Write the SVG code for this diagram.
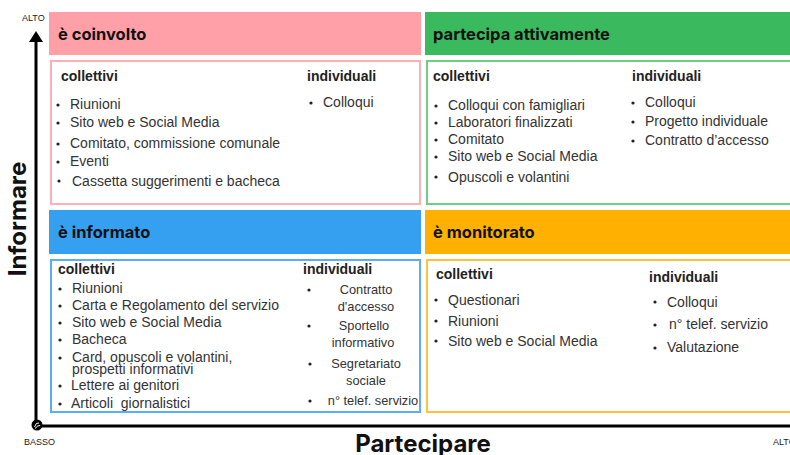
<svg xmlns="http://www.w3.org/2000/svg" width="790" height="455" viewBox="0 0 790 455">
<style>
.hd{font-family:"Inter","Open Sans","Liberation Sans",sans-serif;font-weight:700;font-size:16.5px;fill:#111}
.sub{font-family:"Liberation Sans",Arial,sans-serif;font-weight:700;font-size:14px;fill:#222}
.it{font-family:"Liberation Sans",Arial,sans-serif;font-size:14px;fill:#333}
.sm{font-family:"Liberation Sans",Arial,sans-serif;font-size:12.8px;fill:#333}
.ax{font-family:"Liberation Sans",Arial,sans-serif;font-size:9px;fill:#222}
.big{font-family:"Inter","Open Sans","Liberation Sans",sans-serif;font-weight:700;font-size:24px;fill:#111}
.box{fill:#fff;stroke-width:2}
.bul{fill:#222}
</style>
<rect width="790" height="455" fill="#fff"/>
<g id="coinvolto">
<rect x="49" y="12" width="372" height="43" fill="#FFA0A8"/>
<text class="hd" x="58" y="40">è coinvolto</text>
<rect class="box" x="51" y="61" width="369" height="143" stroke="#FFB0B6"/>
<text class="sub" x="61" y="81">collettivi</text>
<text class="sub" x="307" y="81">individuali</text>
<g class="bul"><circle cx="58" cy="105" r="1.6"/><circle cx="58" cy="123" r="1.6"/><circle cx="58" cy="144" r="1.6"/><circle cx="58" cy="162" r="1.6"/><circle cx="59" cy="181" r="1.6"/><circle cx="311" cy="103" r="1.6"/></g>
<text class="it" x="70" y="109">Riunioni</text>
<text class="it" x="70" y="127">Sito web e Social Media</text>
<text class="it" x="70" y="148">Comitato, commissione comunale</text>
<text class="it" x="70" y="166">Eventi</text>
<text class="it" x="72" y="186">Cassetta suggerimenti e bacheca</text>
<text class="it" x="323" y="107">Colloqui</text>
</g>
<g id="partecipa">
<rect x="425" y="12" width="365" height="43" fill="#3BB95E"/>
<text class="hd" x="433" y="40">partecipa attivamente</text>
<rect class="box" x="427" y="61" width="370" height="143" stroke="#6CCF86"/>
<text class="sub" x="433" y="81">collettivi</text>
<text class="sub" x="632" y="81">individuali</text>
<g class="bul"><circle cx="436" cy="106" r="1.6"/><circle cx="436" cy="123" r="1.6"/><circle cx="436" cy="140" r="1.6"/><circle cx="436" cy="157" r="1.6"/><circle cx="436" cy="177" r="1.6"/><circle cx="633" cy="103" r="1.6"/><circle cx="633" cy="122" r="1.6"/><circle cx="633" cy="141" r="1.6"/></g>
<text class="it" x="448" y="110">Colloqui con famigliari</text>
<text class="it" x="448" y="127">Laboratori finalizzati</text>
<text class="it" x="448" y="144">Comitato</text>
<text class="it" x="448" y="161">Sito web e Social Media</text>
<text class="it" x="448" y="182">Opuscoli e volantini</text>
<text class="it" x="645" y="107">Colloqui</text>
<text class="it" x="645" y="126">Progetto individuale</text>
<text class="it" x="645" y="145">Contratto d’accesso</text>
</g>
<g id="informato">
<rect x="49" y="210" width="372" height="44" fill="#36A0F0"/>
<text class="hd" x="58" y="238">è informato</text>
<rect class="box" x="51" y="260" width="369" height="152" stroke="#5AAFF0"/>
<text class="sub" x="58" y="274">collettivi</text>
<text class="sub" x="303" y="274">individuali</text>
<g class="bul"><circle cx="60" cy="289" r="1.6"/><circle cx="60" cy="306" r="1.6"/><circle cx="60" cy="323" r="1.6"/><circle cx="60" cy="340" r="1.6"/><circle cx="60" cy="358" r="1.6"/><circle cx="60" cy="386" r="1.6"/><circle cx="60" cy="404" r="1.6"/><circle cx="309" cy="290" r="1.6"/><circle cx="309" cy="326" r="1.6"/><circle cx="310" cy="364" r="1.6"/><circle cx="310" cy="401" r="1.6"/></g>
<text class="it" x="72" y="293">Riunioni</text>
<text class="it" x="72" y="310">Carta e Regolamento del servizio</text>
<text class="it" x="72" y="327">Sito web e Social Media</text>
<text class="it" x="72" y="344">Bacheca</text>
<text class="it" x="72" y="362">Card, opuscoli e volantini,</text>
<text class="it" x="72" y="374">prospetti informativi</text>
<text class="it" x="71" y="390">Lettere ai genitori</text>
<text class="it" x="71" y="408" xml:space="preserve">Articoli  giornalistici</text>
<g text-anchor="middle">
<text class="sm" x="366" y="294">Contratto</text>
<text class="sm" x="366" y="311">d'accesso</text>
<text class="sm" x="364" y="330">Sportello</text>
<text class="sm" x="363" y="347">informativo</text>
<text class="sm" x="366" y="368">Segretariato</text>
<text class="sm" x="366" y="385">sociale</text>
<text class="sm" x="373" y="405">n° telef. servizio</text>
</g>
</g>
<g id="monitorato">
<rect x="425" y="210" width="365" height="44" fill="#FFB000"/>
<text class="hd" x="433" y="238">è monitorato</text>
<rect class="box" x="427" y="260" width="370" height="152" stroke="#FFC23A"/>
<text class="sub" x="436" y="279">collettivi</text>
<text class="sub" x="649" y="282">individuali</text>
<g class="bul"><circle cx="436" cy="300" r="1.6"/><circle cx="436" cy="321" r="1.6"/><circle cx="436" cy="341" r="1.6"/><circle cx="655" cy="302" r="1.6"/><circle cx="655" cy="325" r="1.6"/><circle cx="655" cy="348" r="1.6"/></g>
<text class="it" x="448" y="305">Questionari</text>
<text class="it" x="448" y="326">Riunioni</text>
<text class="it" x="448" y="346">Sito web e Social Media</text>
<text class="it" x="667" y="307">Colloqui</text>
<text class="it" x="669" y="329">n° telef. servizio</text>
<text class="it" x="667" y="352">Valutazione</text>
</g>
<g id="connectors">
<line x1="36" y1="40" x2="36" y2="426" stroke="#000" stroke-width="3"/>
<polygon points="36,31 29,42 43,42" fill="#000"/>
<line x1="36" y1="426" x2="790" y2="426" stroke="#000" stroke-width="3"/>
<circle cx="37" cy="425" r="5.5" fill="#000"/>
<path d="M34.5,427 Q36,422 39,423 M35,428.5 Q38,425 40,425.5" fill="none" stroke="#fff" stroke-width="1"/>
</g>
<g id="labels">
<text class="ax" x="22" y="21">ALTO</text>
<text class="ax" x="24" y="445">BASSO</text>
<text class="ax" x="773" y="445">ALTO</text>
<text class="big" transform="translate(26,219) rotate(-90)" text-anchor="middle">Informare</text>
<text class="big" x="423" y="452" text-anchor="middle">Partecipare</text>
</g>
</svg>
